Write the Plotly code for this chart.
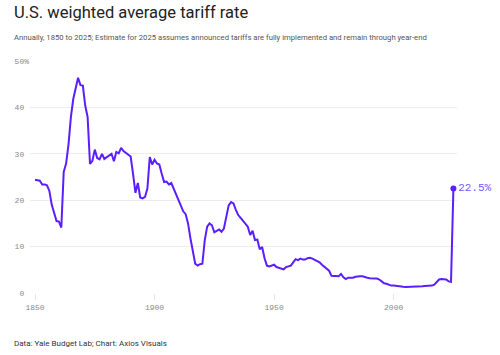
import plotly.graph_objects as go

years = list(range(1850, 2026))
rates = [
    24.4, 24.3, 24.2, 23.4, 23.4, 23.2, 22.0, 19.0, 17.0, 15.5,  # 1850-1859
    15.4, 14.1, 26.1, 27.9, 32.0, 37.9, 41.8, 44.5, 46.4, 44.8,  # 1860-1869
    44.7, 40.4, 37.9, 27.8, 28.5, 30.9, 29.1, 28.8, 30.0, 28.9,  # 1870-1879
    29.3, 29.8, 30.0, 28.4, 30.4, 30.1, 31.3, 30.6, 30.2, 29.7,  # 1880-1889
    29.4, 25.7, 21.6, 23.7, 20.6, 20.4, 20.7, 22.5, 29.3, 27.7,  # 1890-1899
    28.7, 27.9, 27.7, 25.7, 23.9, 24.0, 23.4, 23.7, 22.5, 21.0,  # 1900-1909
    19.9, 18.8, 17.6, 17.0, 15.0, 11.8, 8.6, 6.3, 5.9, 6.2,      # 1910-1919
    6.3, 11.4, 14.3, 15.0, 14.6, 13.1, 13.4, 13.7, 13.2, 13.9,   # 1920-1929
    16.4, 18.9, 19.6, 19.3, 17.9, 16.8, 16.2, 15.6, 15.1, 14.3,  # 1930-1939
    12.5, 13.4, 11.4, 11.5, 9.4, 9.9, 7.5, 5.9, 5.7, 5.9,        # 1940-1949
    6.1, 5.6, 5.4, 5.3, 5.1, 5.6, 5.7, 5.9, 6.6, 7.3,            # 1950-1959
    7.1, 7.4, 7.2, 7.2, 7.5, 7.6, 7.4, 7.1, 6.8, 6.6,            # 1960-1969
    6.1, 5.7, 5.2, 4.8, 3.7, 3.7, 3.7, 3.6, 4.1, 3.4,            # 1970-1979
    3.0, 3.3, 3.3, 3.3, 3.5, 3.6, 3.6, 3.6, 3.4, 3.3,            # 1980-1989
    3.2, 3.1, 3.1, 3.1, 2.9, 2.5, 2.1, 2.0, 1.8, 1.6,            # 1990-1999
    1.6, 1.5, 1.4, 1.4, 1.35, 1.3, 1.3, 1.3, 1.35, 1.4,          # 2000-2009
    1.4, 1.4, 1.45, 1.5, 1.5, 1.55, 1.6, 1.8, 2.4, 2.9,          # 2010-2019
    3.0, 3.0, 2.9, 2.5, 2.4, 22.5,                               # 2020-2025
]

y_ticks = [0, 10, 20, 30, 40, 50]
y_tick_labels = ["0\u00a0", "10\u00a0", "20\u00a0", "30\u00a0", "40\u00a0", "50%"]
x_ticks = [1850, 1900, 1950, 2000]
x_tick_labels = ["1850", "1900", "1950", "2000"]

title = "U.S. weighted average tariff rate"
subtitle = ("Annually, 1850 to 2025; Estimate for 2025 assumes announced tariffs "
            "are fully implemented and remain through year-end")
source = "Data: Yale Budget Lab; Chart: Axios Visuals"
end_label = "22.5%"

LINE = "#5a1eff"
MONO = "Liberation Mono, DejaVu Sans Mono, monospace"
SANS = "Roboto, Inter, Noto Sans, sans-serif"

fig = go.Figure()
fig.add_trace(go.Scatter(
    x=years, y=rates, mode="lines",
    line=dict(color=LINE, width=2, shape="linear"),
    hoverinfo="skip", showlegend=False,
))
fig.add_trace(go.Scatter(
    x=[years[-1]], y=[rates[-1]], mode="markers+text",
    marker=dict(color=LINE, size=6),
    text=[end_label], textposition="middle right",
    textfont=dict(family=MONO, size=11, color="#7a55ff"),
    hoverinfo="skip", showlegend=False, cliponaxis=False,
))

fig.update_layout(
    width=500, height=355,
    margin=dict(l=30, r=43, t=61, b=62),
    paper_bgcolor="white", plot_bgcolor="white",
    font=dict(family=SANS),
    xaxis=dict(
        range=[1847.9, 2026.5], tickmode="array",
        tickvals=x_ticks, ticktext=x_tick_labels,
        showgrid=False, zeroline=False, showline=False,
        ticks="outside", ticklen=6, tickcolor="#e6e6e6", tickwidth=1,
        tickfont=dict(family=MONO, size=8, color="#8a8a8a"),
        fixedrange=True,
    ),
    yaxis=dict(
        range=[0, 50], tickmode="array",
        tickvals=y_ticks, ticktext=y_tick_labels,
        showgrid=True, gridcolor="#ececec", gridwidth=1,
        zeroline=False, showline=False, ticks="",
        tickfont=dict(family=MONO, size=8, color="#8a8a8a"),
        ticklabelstandoff=0,
        fixedrange=True,
    ),
    annotations=[
        dict(text=title, xref="paper", yref="paper", x=-0.043, y=1.16,
             xanchor="left", yanchor="bottom", showarrow=False,
             font=dict(family=SANS, size=16.5, color="#222222")),
        dict(text=subtitle, xref="paper", yref="paper", x=-0.043, y=1.074,
             xanchor="left", yanchor="bottom", showarrow=False,
             font=dict(family=SANS, size=7.7, color="#555555")),
        dict(text=source, xref="paper", yref="paper", x=-0.043, y=-0.19,
             xanchor="left", yanchor="top", showarrow=False,
             font=dict(family=SANS, size=8, color="#333333")),
    ],
)

fig.write_html(
    "out.html",
    config={"displayModeBar": False, "staticPlot": False},
    post_script="document.body.style.margin='0';document.body.style.padding='0';",
)
